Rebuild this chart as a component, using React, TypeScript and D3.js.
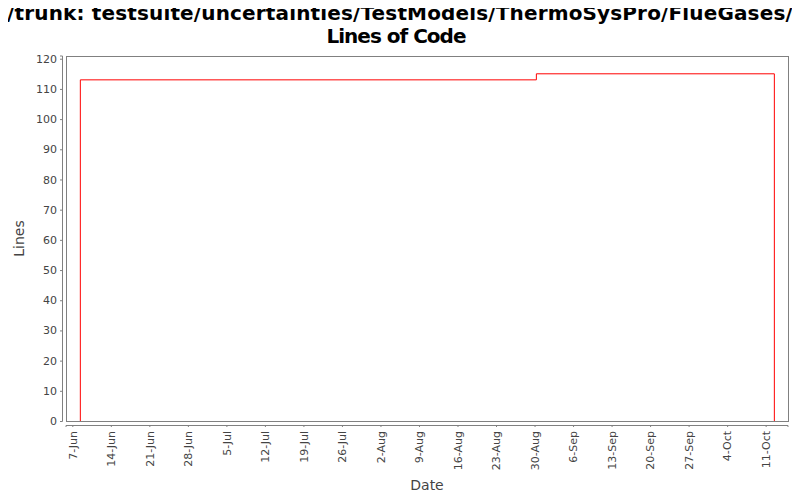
import React, { useEffect, useRef } from 'react';
import * as d3 from 'd3';

// Lines of code over time (step series)
const changeDates = ['2010-06-08T11:00', '2010-08-30T08:00', '2010-10-12T14:00'];
const lineCounts = [113, 115, 115];

const tickDates = [
  '2010-06-07', '2010-06-14', '2010-06-21', '2010-06-28', '2010-07-05', '2010-07-12',
  '2010-07-19', '2010-07-26', '2010-08-02', '2010-08-09', '2010-08-16', '2010-08-23',
  '2010-08-30', '2010-09-06', '2010-09-13', '2010-09-20', '2010-09-27', '2010-10-04',
  '2010-10-11',
];
const yTicks = [0, 10, 20, 30, 40, 50, 60, 70, 80, 90, 100, 110, 120];

const titleLines = ['/trunk: testsuite/uncertainties/TestModels/ThermoSysPro/FlueGases/', 'Lines of Code'];

const App: React.FC = () => {
  const svgRef = useRef<SVGSVGElement | null>(null);

  useEffect(() => {
    if (!svgRef.current) return;
    const svg = d3.select(svgRef.current);
    svg.selectAll('*').remove();

    const width = 800;
    const height = 500;
    const margin = { top: 56, right: 12, bottom: 79, left: 66 };
    const font = 'DejaVu Sans, sans-serif';

    const parse = d3.timeParse('%Y-%m-%dT%H:%M');
    const parseDay = d3.timeParse('%Y-%m-%d');
    const points = changeDates.map((d, i) => ({ date: parse(d) as Date, value: lineCounts[i] }));
    const ticks = tickDates.map(d => parseDay(d) as Date);

    const x = d3.scaleTime()
      .domain([parse('2010-06-05T20:30') as Date, parse('2010-10-15T01:30') as Date])
      .range([margin.left, width - margin.right]);
    const y = d3.scaleLinear()
      .domain([0, 120.9])
      .range([height - margin.bottom, margin.top]);

    svg.append('rect')
      .attr('width', width).attr('height', height).attr('fill', '#fff');

    // title
    svg.append('g').selectAll('text')
      .data(titleLines)
      .join('text')
      .attr('x', (_, i) => (i === 0 ? width / 2 : width / 2 - 4))
      .attr('y', (_, i) => 20 + i * 23)
      .attr('text-anchor', 'middle')
      .attr('font-family', font)
      .attr('font-weight', 'bold')
      .attr('font-size', 20)
      .attr('letter-spacing', (_, i) => (i === 0 ? 0.15 : -1))
      .attr('fill', '#000')
      .text(d => d);

    // plot outline
    svg.append('rect')
      .attr('x', margin.left + 0.5)
      .attr('y', margin.top + 0.5)
      .attr('width', width - margin.right - margin.left)
      .attr('height', height - margin.bottom - margin.top)
      .attr('fill', 'none')
      .attr('stroke', '#808080');

    // y axis
    const yAxis = svg.append('g')
      .attr('transform', `translate(${margin.left - 4},0)`)
      .call(d3.axisLeft(y).tickValues(yTicks).tickSize(2).tickPadding(3));
    yAxis.select('.domain').attr('stroke', '#808080').attr('d', `M-2,${y(0) + 0.5}H0.5V${margin.top}H-2`);
    yAxis.selectAll('.tick line').attr('stroke', '#808080');
    yAxis.selectAll('.tick text')
      .attr('font-family', font).attr('font-size', 11).attr('fill', '#444');

    // x axis
    const xAxis = svg.append('g')
      .attr('transform', `translate(0,${height - margin.bottom + 4})`)
      .call(d3.axisBottom(x).tickValues(ticks).tickFormat(d3.timeFormat('%-d-%b') as any).tickSize(2).tickPadding(3));
    xAxis.select('.domain').attr('stroke', '#808080')
      .attr('d', `M${margin.left},2V0.5H${width - margin.right}V2`);
    xAxis.selectAll('.tick line').attr('stroke', '#808080');
    xAxis.selectAll('.tick text')
      .attr('font-family', font).attr('font-size', 11).attr('fill', '#444')
      .attr('text-anchor', 'end')
      .attr('transform', 'rotate(-90)')
      .attr('x', -6)
      .attr('y', 0)
      .attr('dy', '0.35em');

    // axis labels
    svg.append('text')
      .attr('transform', `translate(24,${(margin.top + height - margin.bottom) / 2}) rotate(-90)`)
      .attr('text-anchor', 'middle')
      .attr('font-family', font).attr('font-size', 14).attr('fill', '#444')
      .text('Lines');
    svg.append('text')
      .attr('x', (margin.left + width - margin.right) / 2)
      .attr('y', 490)
      .attr('text-anchor', 'middle')
      .attr('font-family', font).attr('font-size', 14).attr('fill', '#444')
      .text('Date');

    // step outline, dropping to zero at both ends
    const first = points[0];
    const last = points[points.length - 1];
    const outline = [{ date: first.date, value: 0 }, ...points, { date: last.date, value: 0 }];
    const line = d3.line<{ date: Date; value: number }>()
      .x(d => x(d.date))
      .y(d => y(d.value))
      .curve(d3.curveStepAfter);

    svg.append('path')
      .datum(outline)
      .attr('d', line)
      .attr('fill', 'none')
      .attr('stroke', '#ff0000')
      .attr('stroke-width', 1);
  }, []);

  return <svg ref={svgRef} width={800} height={500} style={{ display: 'block', margin: -8 }} />;
};

export default App;
